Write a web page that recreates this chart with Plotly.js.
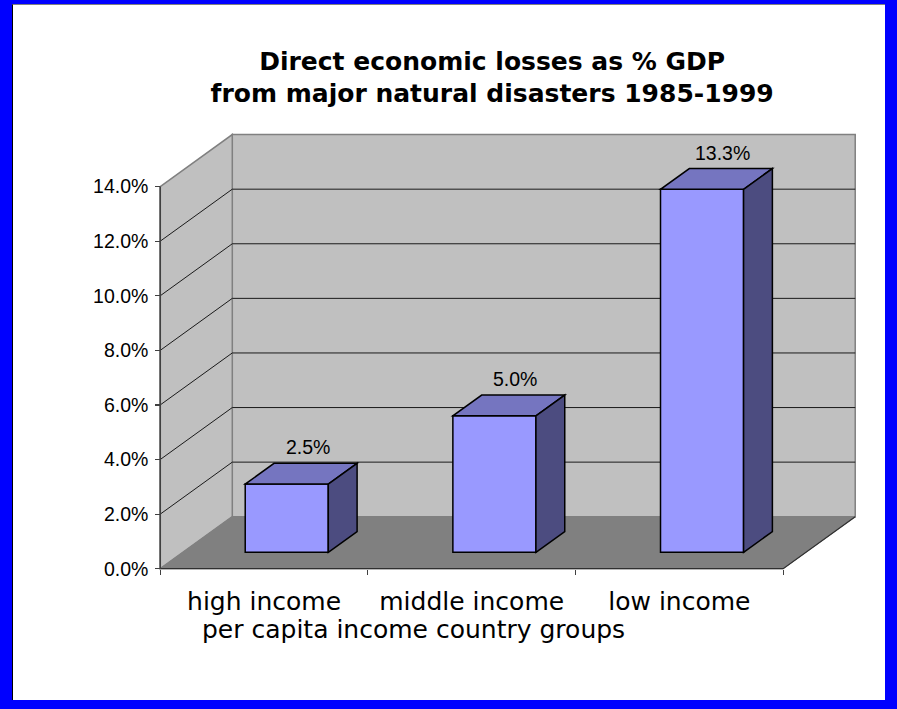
<!DOCTYPE html>
<html><head><meta charset="utf-8">
<script src="https://cdn.plot.ly/plotly-3.0.1.min.js"></script>
<style>
html,body{margin:0;padding:0;background:#0000ff;width:897px;height:709px;overflow:hidden;}
#frame{position:absolute;left:12px;top:4px;width:873px;height:696px;background:#fff;border-left:1px solid #000;border-top:1px solid #808080;box-sizing:border-box;}
#chart{position:absolute;left:0;top:0;width:897px;height:709px;}
</style></head><body>
<div id="frame"></div><div id="chart"></div>
<script>
// ---- data ----
const categories = ['high income', 'middle income', 'low income'];
const lossPct = [2.5, 5.0, 13.3];
const yTicks = [0, 2, 4, 6, 8, 10, 12, 14];
const yTickText = ['0.0%', '2.0%', '4.0%', '6.0%', '8.0%', '10.0%', '12.0%', '14.0%'];
const titleLines = ['Direct economic losses as % GDP', 'from major natural disasters 1985-1999'];
const xAxisTitle = 'per capita income country groups';

// ---- pseudo-3D geometry (axis units) ----
const DX = 0.347, DY = 1.905;      // full depth of the box
const FRONT = 0.315;               // bar front as fraction of depth
const BAR_D = 0.4;                 // bar depth as fraction of depth
const BAR_W = 0.4;                 // bar width (category units)
const X0 = -0.5, X1 = categories.length - 0.5, YTOP = yTicks[yTicks.length - 1];
const XR = [-0.53, 2.87], YR = [-0.12, 16];

function poly(p){ return 'M' + p.map(q => q[0] + ',' + q[1]).join(' L') + ' Z'; }
function pl(p){ return 'M' + p.map(q => q[0] + ',' + q[1]).join(' L'); }
const shapes = [];
function add(path, fill, lc, lw, layer){
  shapes.push({type:'path', path:path, xref:'x', yref:'y', fillcolor:fill || 'rgba(0,0,0,0)',
    line:{color:lc, width:lw}, layer:layer || 'below'});
}
// walls & floor
add(poly([[X0+DX,DY],[X1+DX,DY],[X1+DX,YTOP+DY],[X0+DX,YTOP+DY]]), '#c0c0c0', '#808080', 1.5);
add(poly([[X0,0],[X0+DX,DY],[X0+DX,YTOP+DY],[X0,YTOP]]), '#c0c0c0', '#808080', 1.5);
add(poly([[X0,0],[X1,0],[X1+DX,DY],[X0+DX,DY]]), '#808080', '#808080', 1);
// gridlines on side & back wall
yTicks.filter(v => v > 0 && v < YTOP).forEach(v => {
  add(pl([[X0,v],[X0+DX,v+DY],[X1+DX,v+DY]]), null, '#1a1a1a', 1);
});
// edges
add(pl([[X0,0],[X1,0],[X1+DX,DY]]), null, '#303030', 1.3);
add(pl([[X0,0],[X0,YTOP]]), null, '#404040', 1.6);

// bars
const bx = BAR_D * DX, by = BAR_D * DY, base = FRONT * DY, sx = FRONT * DX;
const annotations = [];
lossPct.forEach((v, i) => {
  const x0 = i - BAR_W/2 + sx, x1 = x0 + BAR_W, yb = base, yt = base + v;
  add(poly([[x0,yt],[x1,yt],[x1+bx,yt+by],[x0+bx,yt+by]]), '#7575c0', '#000', 1.5, 'above');
  add(poly([[x1,yb],[x1+bx,yb+by],[x1+bx,yt+by],[x1,yt]]), '#4c4c80', '#000', 1.5, 'above');
  annotations.push({x: i + sx + bx*0.72, y: yt + by, xref:'x', yref:'y', text: v.toFixed(1) + '%',
    showarrow:false, yanchor:'middle', xanchor:'center', yshift:16,
    font:{family:'Liberation Sans, Arial', size:19.5, color:'#000'}});
});
annotations.push({xref:'paper', yref:'paper', x:0.368, y:-0.13, text:xAxisTitle, showarrow:false,
  xanchor:'center', yanchor:'middle', font:{family:'DejaVu Sans', size:25, color:'#000'}});

const trace = {type:'bar', x:categories, y:lossPct, base:base, offset:-BAR_W/2 + sx, width:BAR_W,
  marker:{color:'#9999ff', line:{color:'#000', width:1.5}}, hoverinfo:'skip'};

const layout = {
  width:897, height:709,
  margin:{l:154, r:37, t:132, b:137, pad:0},
  paper_bgcolor:'rgba(0,0,0,0)', plot_bgcolor:'rgba(0,0,0,0)',
  showlegend:false, hovermode:false,
  title:{text:titleLines.join('<br>'), font:{family:'DejaVu Sans', size:25, weight:'bold', color:'#000'},
    xref:'paper', x:0.479, xanchor:'center', yref:'container', y:0.9013, yanchor:'top'},
  xaxis:{type:'category', categoryorder:'array', categoryarray:categories, range:XR,
    tickson:'boundaries', ticks:'outside', ticklen:5, tickwidth:1.2, tickcolor:'#404040',
    showgrid:false, zeroline:false, showline:false, anchor:'free', position:(0 - YR[0])/(YR[1]-YR[0]),
    tickfont:{family:'DejaVu Sans', size:25, color:'#000'}, ticklabelstandoff:15, fixedrange:true},
  yaxis:{range:YR, tickmode:'array', tickvals:yTicks, ticktext:yTickText, ticks:'outside', ticklen:5,
    tickwidth:1.2, tickcolor:'#404040', showgrid:false, zeroline:false, showline:false,
    anchor:'free', position:(X0 - XR[0])/(XR[1]-XR[0]),
    tickfont:{family:'Liberation Sans, Arial', size:19.5, color:'#000'}, ticklabelstandoff:3, fixedrange:true},
  shapes:shapes, annotations:annotations
};
Plotly.newPlot('chart', [trace], layout, {staticPlot:true, displayModeBar:false});
</script>
</body></html>
